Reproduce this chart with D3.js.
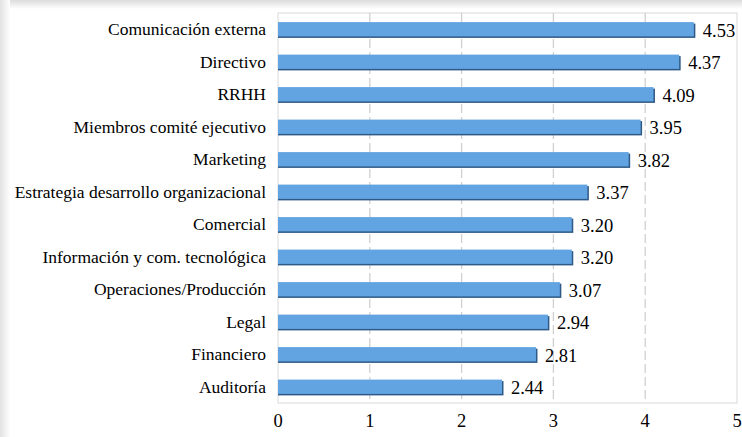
<!DOCTYPE html>
<html>
<head>
<meta charset="utf-8">
<script src="https://cdn.jsdelivr.net/npm/d3@7"></script>
<style>
  body { margin: 0; background: #fff; }
  svg { display: block; }
</style>
</head>
<body>
<div id="chart"></div>
<script>
// ===== Data =====
const categories = [
  "Comunicación externa", "Directivo", "RRHH", "Miembros comité ejecutivo",
  "Marketing", "Estrategia desarrollo organizacional", "Comercial",
  "Información y com. tecnológica", "Operaciones/Producción", "Legal",
  "Financiero", "Auditoría"
];
const values = [4.53, 4.37, 4.09, 3.95, 3.82, 3.37, 3.20, 3.20, 3.07, 2.94, 2.81, 2.44];
const xTicks = [0, 1, 2, 3, 4, 5];

const FONT = "Liberation Serif";

// ===== Chart =====
const W = 742, H = 437;
const margin = {top: 13, right: 5, bottom: 34, left: 278};
const width = W - margin.left - margin.right;
const height = H - margin.top - margin.bottom;

const svg = d3.select("#chart").append("svg")
    .attr("width", W)
    .attr("height", H);

// soft frame shadow on top/left edges
const defs = svg.append("defs");
const gTop = defs.append("linearGradient").attr("id", "shTop").attr("x1", 0).attr("y1", 0).attr("x2", 0).attr("y2", 1);
gTop.append("stop").attr("offset", 0).attr("stop-color", "#dcdcdc");
gTop.append("stop").attr("offset", 1).attr("stop-color", "#ffffff");
const gLeft = defs.append("linearGradient").attr("id", "shLeft").attr("x1", 0).attr("y1", 0).attr("x2", 1).attr("y2", 0);
gLeft.append("stop").attr("offset", 0).attr("stop-color", "#e2e2e2");
gLeft.append("stop").attr("offset", 1).attr("stop-color", "#ffffff");
svg.append("rect").attr("x", 0).attr("y", 0).attr("width", W).attr("height", 9).attr("fill", "url(#shTop)");
svg.append("rect").attr("x", 0).attr("y", 0).attr("width", 10).attr("height", H).attr("fill", "url(#shLeft)");

const g = svg.append("g")
    .attr("transform", `translate(${margin.left},${margin.top})`);

const x = d3.scaleLinear().domain([0, 5]).range([0, width]);
const y = d3.scaleBand().domain(categories).range([0, height]).paddingInner(0.56).paddingOuter(0.28);

// plot frame
g.append("rect")
    .attr("x", 0).attr("y", 0)
    .attr("width", width).attr("height", height)
    .attr("fill", "none")
    .attr("stroke", "#d9d9d9");

// dashed gridlines
g.selectAll(".grid")
    .data(xTicks.slice(1, -1))
    .enter().append("line")
    .attr("x1", d => x(d)).attr("x2", d => x(d))
    .attr("y1", 0).attr("y2", height)
    .attr("stroke", "#d0d0d0")
    .attr("stroke-width", 1.3)
    .attr("stroke-dasharray", "9,4");

// bar shadows
g.selectAll(".shadow")
    .data(values)
    .enter().append("rect")
    .attr("x", 0)
    .attr("y", (d, i) => y(categories[i]) + 1.5)
    .attr("width", d => x(d) + 1.5)
    .attr("height", y.bandwidth())
    .attr("fill", "#2e5a85");

// bars
g.selectAll(".bar")
    .data(values)
    .enter().append("rect")
    .attr("x", 0)
    .attr("y", (d, i) => y(categories[i]))
    .attr("width", d => x(d))
    .attr("height", y.bandwidth())
    .attr("fill", "#62a3e2");

// value labels
g.selectAll(".val")
    .data(values)
    .enter().append("text")
    .attr("x", d => x(d) + 9)
    .attr("y", (d, i) => y(categories[i]) + y.bandwidth() / 2 + 1)
    .attr("dy", "0.35em")
    .style("font-family", FONT)
    .style("font-size", "18.5px")
    .style("fill", "#000")
    .text(d => d.toFixed(2));

// category labels
g.selectAll(".cat")
    .data(categories)
    .enter().append("text")
    .attr("x", -12)
    .attr("y", d => y(d) + y.bandwidth() / 2)
    .attr("dy", "0.35em")
    .attr("text-anchor", "end")
    .style("font-family", FONT)
    .style("font-size", "17.5px")
    .style("fill", "#000")
    .text(d => d);

// x axis tick labels
g.selectAll(".xt")
    .data(xTicks)
    .enter().append("text")
    .attr("x", d => x(d))
    .attr("y", height + 24)
    .attr("text-anchor", "middle")
    .style("font-family", FONT)
    .style("font-size", "18.5px")
    .style("fill", "#000")
    .text(d => d);
</script>
</body>
</html>
